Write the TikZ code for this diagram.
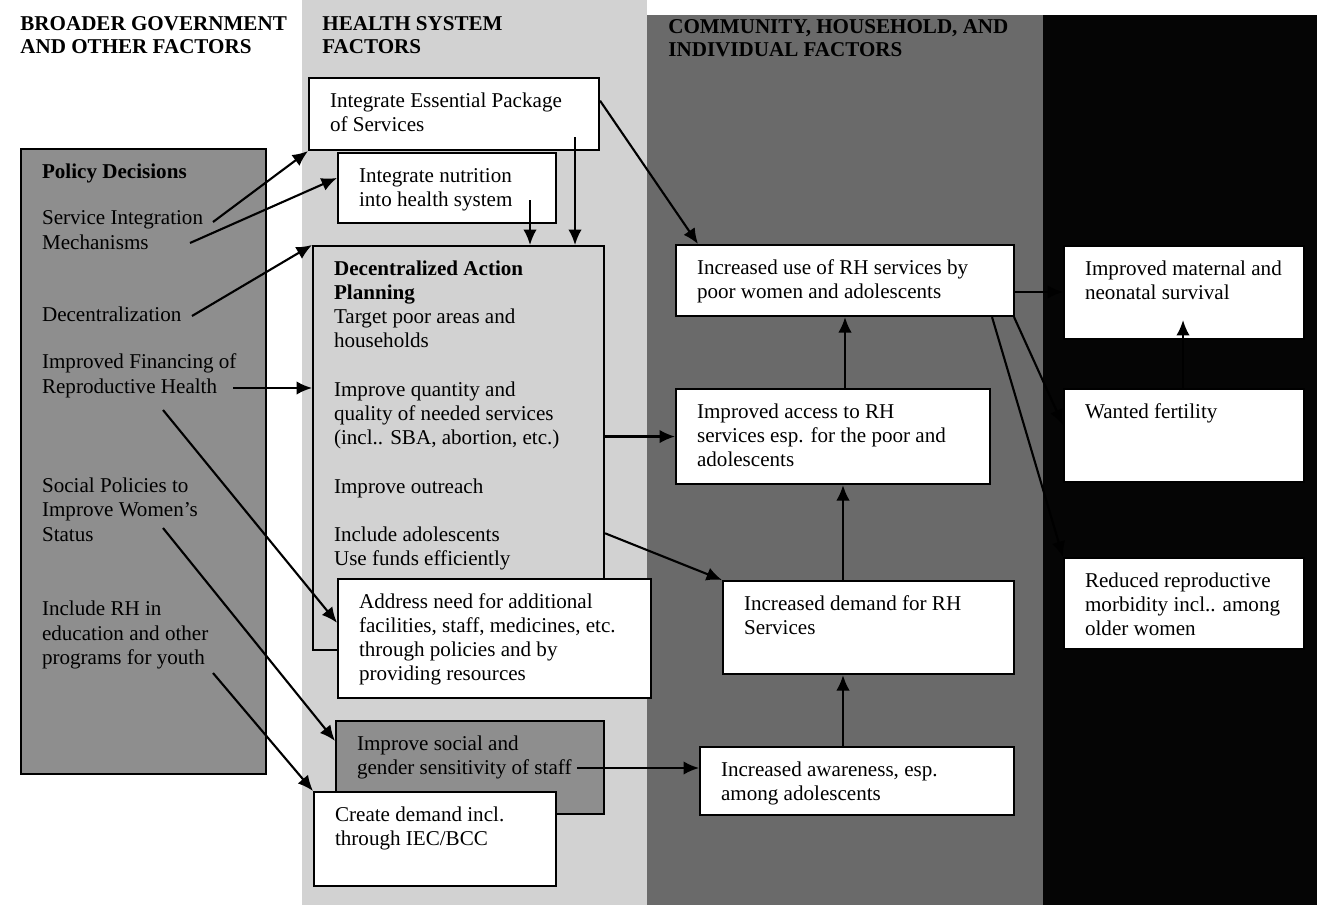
\documentclass[tikz,border=0pt]{standalone}
\usepackage{fontspec}
\setmainfont{Liberation Serif}
\usetikzlibrary{calc,arrows.meta}
\definecolor{hsband}{HTML}{D2D2D2}
\definecolor{cmband}{HTML}{6A6A6A}
\definecolor{outband}{HTML}{050505}
\definecolor{policy}{HTML}{8E8E8E}
\tikzset{
  box/.style={draw=black, line width=1.2pt, fill=white, anchor=north west,
    inner xsep=0.42cm, inner ysep=0.24cm, font=\fontsize{12}{13.8}\selectfont},
  graybox/.style={box, fill=policy},
  openbox/.style={box, fill=none},
  head/.style={anchor=base west, inner sep=0pt, font=\fontsize{12}{13}\selectfont\bfseries},
  arr/.style={draw=black, line width=1.2pt, -{Latex[length=3.1mm,width=2.7mm]}}
}
% box text: outer width, outer height (cm), lines
\newcommand{\boxtxt}[3]{\parbox[t][\dimexpr#2cm-0.48cm\relax][t]{\dimexpr#1cm-0.84cm\relax}{\raggedright\strut#3}}

\begin{document}
\begin{tikzpicture}[x=0.02cm, y=-0.02cm]
  \useasboundingbox (0,0) rectangle (1317,905);

  % column bands
  \fill[hsband] (302,0) rectangle (647,905);
  \fill[cmband] (647,15) rectangle (1043,905);
  \fill[outband] (1043,15) rectangle (1317,905);

  % headers
  \node[head] (hgov) at (20,31) {\parbox[t]{7cm}{BROADER GOVERNMENT\\AND OTHER FACTORS}};
  \node[head] (hsys) at (322,31) {\parbox[t]{7cm}{HEALTH SYSTEM\\FACTORS}};
  \node[head] (hcom) at (668,34) {\parbox[t]{8cm}{COMMUNITY, HOUSEHOLD, AND\\INDIVIDUAL FACTORS}};

  % policy panel
  \node[graybox] (pol) at (20,148) {\boxtxt{4.90}{12.50}{\textbf{Policy Decisions}\\[12.9pt]
    Service Integration\\Mechanisms\\[27.6pt]
    Decentralization\\[12.9pt]
    Improved Financing of\\Reproductive Health\\[42.9pt]
    Social Policies to\\Improve Women's\\Status\\[28.7pt]
    Include RH in\\education and other\\programs for youth}};

  % health system factors
  \node[openbox] (dap) at (312,245) {\boxtxt{5.82}{8.08}{{\bfseries Decentralized Action\\Planning}\\
    Target poor areas and\\households\\[13.8pt]
    Improve quantity and\\quality of needed services\\(incl.. SBA, abortion, etc.)\\[13.8pt]
    Improve outreach\\[13.8pt]
    Include adolescents\\Use funds efficiently}};
  \node[box] (eps) at (308,77) {\boxtxt{5.80}{1.44}{Integrate Essential Package\\of Services}};
  \node[box] (nut) at (337,152) {\boxtxt{4.36}{1.40}{Integrate nutrition\\into health system}};
  \node[box] (addr) at (337,578) {\boxtxt{6.26}{2.38}{Address need for additional\\facilities, staff, medicines, etc.\\through policies and by\\providing resources}};
  \node[graybox] (soc) at (335,720) {\boxtxt{5.36}{1.86}{Improve social and\\gender sensitivity of staff}};
  \node[box] (iec) at (313,791) {\boxtxt{4.84}{1.88}{Create demand incl.\\through IEC/BCC}};

  % community, household, individual
  \node[box] (use) at (675,244) {\boxtxt{6.76}{1.42}{Increased use of RH services by\\poor women and adolescents}};
  \node[box] (acc) at (675,388) {\boxtxt{6.28}{1.90}{Improved access to RH\\services esp. for the poor and\\adolescents}};
  \node[box] (dem) at (722,580) {\boxtxt{5.82}{1.86}{Increased demand for RH\\Services}};
  \node[box] (awr) at (699,746) {\boxtxt{6.28}{1.36}{Increased awareness, esp.\\among adolescents}};

  % outcomes
  \node[box] (mat) at (1063,245) {\boxtxt{4.80}{1.86}{Improved maternal and\\neonatal survival}};
  \node[box] (fert) at (1063,388) {\boxtxt{4.80}{1.86}{Wanted fertility}};
  \node[box] (morb) at (1063,557) {\boxtxt{4.80}{1.82}{Reduced reproductive\\morbidity incl.. among\\older women}};

  % policy decisions -> health system
  \coordinate (sInt) at (213,222);
  \coordinate (sMech) at (190,243);
  \coordinate (sDec) at (192,316);
  \coordinate (sFin) at (233,388);
  \coordinate (sRep) at (163,410);
  \coordinate (sWom) at (163,528);
  \coordinate (sYth) at (213,673);
  \draw[arr] (sInt) -- (eps.south west);
  \draw[arr] (sMech) -- ($(nut.north west)!0.36!(nut.south west)$);
  \draw[arr] (sDec) -- (dap.north west);
  \draw[arr] (sFin) -- (sFin -| dap.west);
  \draw[arr] (sRep) -- ($(addr.north west)!0.37!(addr.south west)$);
  \draw[arr] (sWom) -- ($(soc.north west)!0.22!(soc.south west)$);
  \draw[arr] (sYth) -- (iec.north west);

  % inside health system
  \coordinate (sEps) at ($(eps.south west)+(267,-14)$);
  \coordinate (sNut) at ($(nut.south west)+(193,-24)$);
  \draw[arr] (sEps) -- (sEps |- dap.north);
  \draw[arr] (sNut) -- (sNut |- dap.north);

  % health system -> community
  \draw[arr] ($(eps.north east)!0.32!(eps.south east)$) -- ($(use.north west)+(23,0)$);
  \draw[arr] (acc.west -| dap.east) -- (acc.west);
  \draw[arr] ($(dap.north east)!0.71!(dap.south east)$) -- (dem.north west);
  \coordinate (sStaff) at ($(soc.north west)+(242,48)$);
  \draw[arr] (sStaff) -- (sStaff -| awr.west);

  % community chain
  \draw[arr] ($(acc.north west)+(170,0)$) -- ($(use.south west)+(170,0)$);
  \draw[arr] ($(dem.north west)+(121,0)$) -- ($(acc.south west)+(168,0)$);
  \draw[arr] ($(awr.north west)+(144,0)$) -- ($(dem.south west)+(121,0)$);

  % use -> outcomes
  \draw[arr] ($(use.north east)+(0,48)$) -- ($(mat.north west)+(0,47)$);
  \draw[arr] ($(use.south east)+(-1,0)$) -- ($(fert.north west)+(0,37)$);
  \draw[arr] ($(use.south east)+(-23,0)$) -- (morb.north west);
  \draw[arr] ($(fert.north west)+(120,0)$) -- ($(mat.north west)+(120,75)$);
\end{tikzpicture}
\end{document}
